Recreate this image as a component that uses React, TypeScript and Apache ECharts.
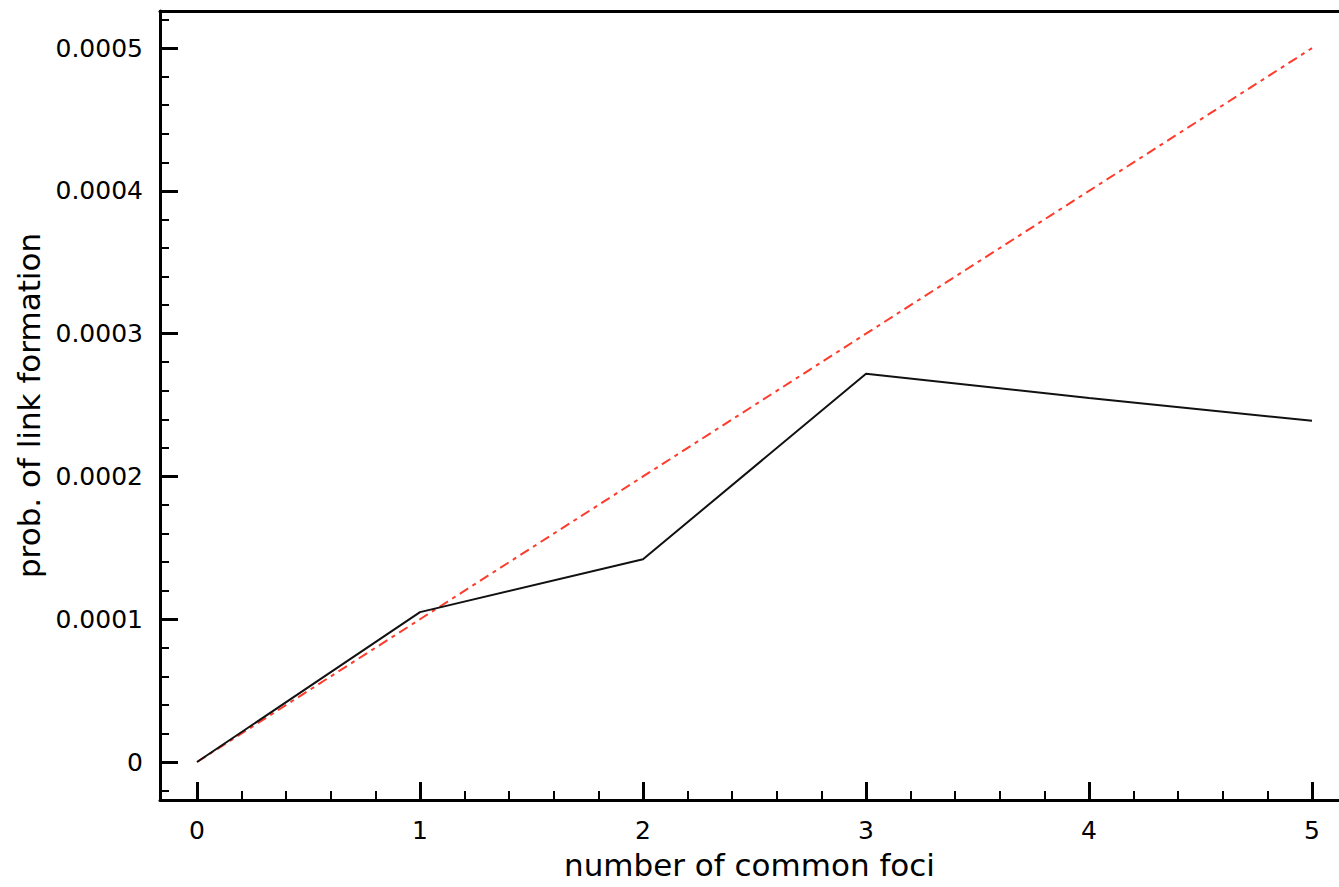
import React, { useEffect, useRef } from "react";
import * as echarts from "echarts";

const foci = [0, 1, 2, 3, 4, 5];
const observed = [0, 0.000105, 0.000142, 0.000272, 0.000255, 0.000239];
const expected = [0, 0.0001, 0.0002, 0.0003, 0.0004, 0.0005];
const xMajor = [0, 1, 2, 3, 4, 5];
const xMinor = [0.2, 0.4, 0.6, 0.8, 1.2, 1.4, 1.6, 1.8, 2.2, 2.4, 2.6, 2.8, 3.2, 3.4, 3.6, 3.8, 4.2, 4.4, 4.6, 4.8];
const yMajor = [0, 0.0001, 0.0002, 0.0003, 0.0004, 0.0005];
const yMinor = [-0.00002, 0.00002, 0.00004, 0.00006, 0.00008, 0.00012, 0.00014, 0.00016, 0.00018, 0.00022, 0.00024, 0.00026, 0.00028, 0.00032, 0.00034, 0.00036, 0.00038, 0.00042, 0.00044, 0.00046, 0.00048, 0.00052];

const FONT = "DejaVu Sans";
const X_MIN = -0.166;
const X_MAX = 5.121;
const Y_MIN = -0.0000266;
const Y_MAX = 0.000526;

export default function App() {
  const ref = useRef<HTMLDivElement>(null);
  useEffect(() => {
    if (!ref.current) return;
    const chart = echarts.init(ref.current, null, { renderer: "svg" });
    const fmtY = (v: number) => (Math.abs(v) < 1e-12 ? "0" : v.toFixed(4));
    chart.setOption({
      animation: false,
      backgroundColor: "#ffffff",
      grid: {
        left: 160,
        top: 11,
        right: 0,
        bottom: 87,
        show: false,
      },
      xAxis: [
        {
          type: "value",
          min: X_MIN,
          max: X_MAX,
          position: "bottom",
          name: "number of common foci",
          nameLocation: "middle",
          nameGap: 49,
          nameTextStyle: { fontFamily: FONT, fontSize: 31, color: "#000" },
          axisLine: { show: true, onZero: false, lineStyle: { color: "#000", width: 3 } },
          axisTick: { show: true, inside: true, length: 18, customValues: xMajor, lineStyle: { color: "#000", width: 3 } },
          axisLabel: { show: true, customValues: xMajor, margin: 18, fontFamily: FONT, fontSize: 25, color: "#000", formatter: (v: number) => String(Math.round(v)) },
          splitLine: { show: false },
        },
        {
          type: "value",
          min: X_MIN,
          max: X_MAX,
          position: "bottom",
          axisLine: { show: false, onZero: false },
          axisTick: { show: true, inside: true, length: 9, customValues: xMinor, lineStyle: { color: "#000", width: 2 } },
          axisLabel: { show: false },
          splitLine: { show: false },
        },
        {
          type: "value",
          min: X_MIN,
          max: X_MAX,
          position: "top",
          axisLine: { show: true, onZero: false, lineStyle: { color: "#000", width: 3 } },
          axisTick: { show: false },
          axisLabel: { show: false },
          splitLine: { show: false },
        },
      ],
      yAxis: [
        {
          type: "value",
          min: Y_MIN,
          max: Y_MAX,
          position: "left",
          name: "prob. of link formation",
          nameLocation: "middle",
          nameGap: 108,
          nameTextStyle: { fontFamily: FONT, fontSize: 31, color: "#000" },
          axisLine: { show: true, onZero: false, lineStyle: { color: "#000", width: 3 } },
          axisTick: { show: true, inside: true, length: 18, customValues: yMajor, lineStyle: { color: "#000", width: 3 } },
          axisLabel: { show: true, customValues: yMajor, margin: 17, fontFamily: FONT, fontSize: 25, color: "#000", formatter: fmtY },
          splitLine: { show: false },
        },
        {
          type: "value",
          min: Y_MIN,
          max: Y_MAX,
          position: "left",
          axisLine: { show: false, onZero: false },
          axisTick: { show: true, inside: true, length: 9, customValues: yMinor, lineStyle: { color: "#000", width: 2 } },
          axisLabel: { show: false },
          splitLine: { show: false },
        },
      ],
      series: [
        {
          type: "line",
          name: "expected",
          data: foci.map((x, i) => [x, expected[i]]),
          showSymbol: false,
          symbol: "none",
          lineStyle: { color: "#ff3b2b", width: 2, type: [10, 5, 4, 5] },
          z: 2,
        },
        {
          type: "line",
          name: "observed",
          data: foci.map((x, i) => [x, observed[i]]),
          showSymbol: false,
          symbol: "none",
          lineStyle: { color: "#111", width: 2 },
          z: 3,
        },
      ],
    });
    return () => chart.dispose();
  }, []);
  return (
    <div
      ref={ref}
      style={{ position: "fixed", left: 0, top: 0, width: 1339, height: 887 }}
    />
  );
}
